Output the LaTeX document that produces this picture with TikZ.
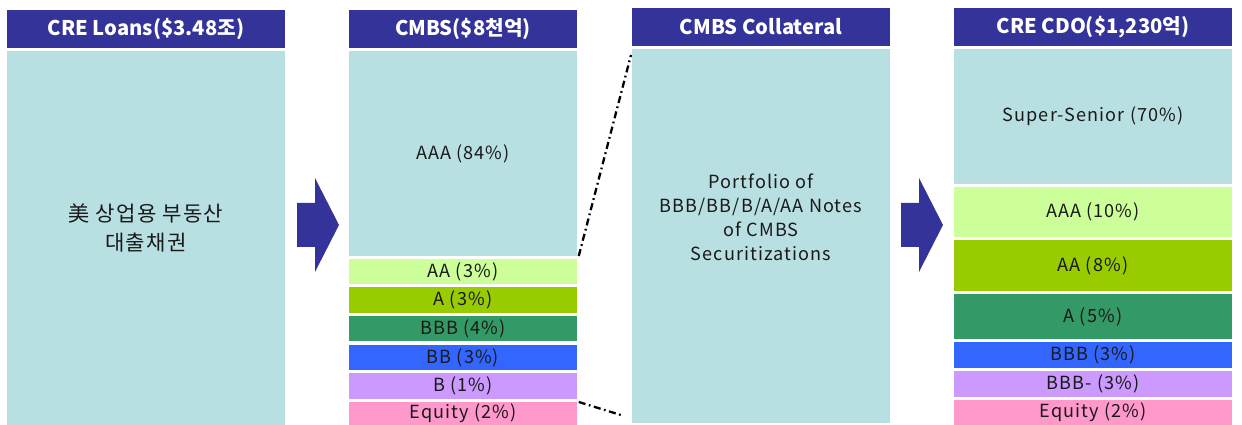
\documentclass[tikz,border=0pt]{standalone}
\usepackage{fontspec}
\setmainfont{Noto Sans CJK KR}
\newfontfamily\tierfont[LetterSpace=6]{Noto Sans CJK KR}

% tranche colours
\definecolor{hdrblue}{RGB}{51,51,153}
\definecolor{paleteal}{RGB}{184,223,226}
\definecolor{trAA}{RGB}{204,255,153}
\definecolor{trA}{RGB}{153,204,0}
\definecolor{trBBB}{RGB}{51,153,102}
\definecolor{trBB}{RGB}{51,102,255}
\definecolor{trB}{RGB}{204,153,255}
\definecolor{trEq}{RGB}{255,153,204}

% one box from its top left corner (x1,y1) to its bottom right corner (x2,y2)
\newcommand\slab[8][box]{%
  \node [#1, fill=#6, anchor=north west,
    minimum width={(#4-#2)*0.02cm}, minimum height={(#5-#3)*0.02cm}]
    (#7) at (#2,#3) {#8};}

\tikzset{
  box/.style={inner sep=0pt, outer sep=0pt, text=black!90,
    font=\tierfont\fontsize{10.3}{13.6}\selectfont},
  hdr/.style={box, text=white,
    font=\fontsize{11.5}{13}\selectfont\bfseries},
  blockarrow/.pic={
    \fill[hdrblue] (0,-22) -- (18,-22) -- (18,-47) -- (42,0)
      -- (18,47) -- (18,22) -- (0,22) -- cycle;
  },
  dashdot/.style={line width=1.3pt,
    dash pattern=on 4pt off 2pt on 1pt off 2pt}
}

\begin{document}
\begin{tikzpicture}[x=0.02cm, y=-0.02cm]
  \useasboundingbox (0,0) rectangle (1242,425);

  % CRE loans
  \slab[hdr]{7}{10}{285}{48}{hdrblue}{loansH}{CRE Loans(\$3.48조)}
  \slab{7}{51}{285}{425}{paleteal}{loans}{}
  \node [box, align=center, font=\tierfont\fontsize{12}{17}\selectfont]
    (loansTxt) at ([yshift=5.7pt]loans.center) {美 상업용 부동산\\대출채권};

  % CMBS tranches
  \slab[hdr]{349}{10}{577}{48}{hdrblue}{cmbsH}{CMBS(\$8천억)}
  \slab{349}{51}{577}{256}{paleteal}{cAAA}{AAA (84\%)}
  \slab{349}{259}{577}{284}{trAA}{cAA}{AA (3\%)}
  \slab{349}{287}{577}{313}{trA}{cA}{A (3\%)}
  \slab{349}{316}{577}{341}{trBBB}{cBBB}{BBB (4\%)}
  \slab{349}{345}{577}{370}{trBB}{cBB}{BB (3\%)}
  \slab{349}{373}{577}{399}{trB}{cB}{B (1\%)}
  \slab{349}{402}{577}{425}{trEq}{cEq}{Equity (2\%)}

  % collateral pool
  \slab[hdr]{632}{8}{890}{46}{hdrblue}{collH}{CMBS Collateral}
  \slab{632}{49}{890}{423}{paleteal}{coll}{}
  \node [box, align=center] (collTxt) at ([yshift=10.8pt]coll.center)
    {Portfolio of\\BBB/BB/B/A/AA Notes\\of CMBS\\Securitizations};

  % CDO tranches
  \slab[hdr]{954}{8}{1232}{46}{hdrblue}{cdoH}{CRE CDO(\$1,230억)}
  \slab{954}{49}{1232}{184}{paleteal}{dSS}{Super-Senior (70\%)}
  \slab{954}{187}{1232}{237}{trAA}{dAAA}{AAA (10\%)}
  \slab{954}{240}{1232}{291}{trA}{dAA}{AA (8\%)}
  \slab{954}{294}{1232}{339}{trBBB}{dA}{A (5\%)}
  \slab{954}{342}{1232}{368}{trBB}{dBBB}{BBB (3\%)}
  \slab{954}{371}{1232}{397}{trB}{dBBBm}{BBB- (3\%)}
  \slab{954}{400}{1232}{425}{trEq}{dEq}{Equity (2\%)}

  % flow arrows
  \coordinate (arr1) at (297,225);
  \coordinate (arr2) at (901,225);
  \pic at (arr1) {blockarrow};
  \pic at (arr2) {blockarrow};

  % zoom lines onto the collateral
  \coordinate (zTop) at (631,55);
  \coordinate (zBot) at (624,416);
  \draw [dashdot] ([xshift=1pt]cAAA.south east) -- (zTop);
  \draw [dashdot] ([xshift=1pt]cEq.north east) -- (zBot);
\end{tikzpicture}
\end{document}
